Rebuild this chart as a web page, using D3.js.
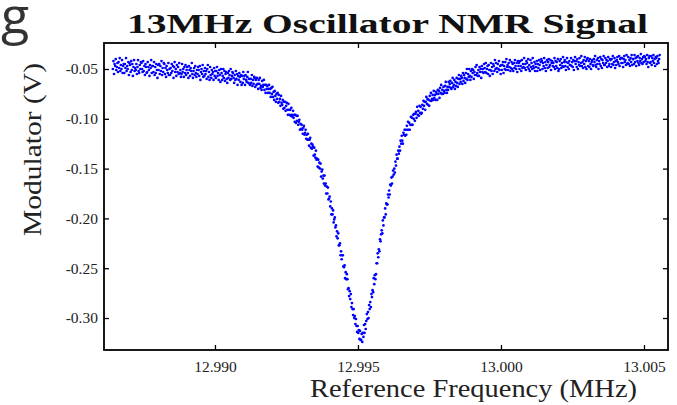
<!DOCTYPE html>
<html><head><meta charset="utf-8">
<script src="https://cdn.jsdelivr.net/npm/d3@7"></script>
<style>html,body{margin:0;padding:0;background:#fff}svg{display:block}</style>
</head><body>
<svg id="c" width="677" height="405"></svg>
<script>
const chartTitle = "13MHz Oscillator NMR Signal";
const cornerMark = "g";
const xLabel = "Reference Frequency (MHz)";
const yLabel = "Modulator (V)";
const xTicks = [12.990, 12.995, 13.000, 13.005];
const yTicks = [-0.05, -0.10, -0.15, -0.20, -0.25, -0.30];

// sweep frequencies (MHz)
const freqMHz = [
12.98643,12.98645,12.98647,12.98649,12.98651,12.98653,12.98655,12.98657,12.98659,12.98661,
12.98663,12.98665,12.98667,12.98669,12.98671,12.98673,12.98675,12.98677,12.98679,12.98681,
12.98683,12.98685,12.98687,12.98689,12.98691,12.98693,12.98695,12.98697,12.98699,12.98701,
12.98703,12.98705,12.98707,12.98709,12.98711,12.98713,12.98715,12.98717,12.98719,12.98721,
12.98723,12.98725,12.98727,12.98729,12.98731,12.98733,12.98735,12.98737,12.98739,12.98741,
12.98743,12.98745,12.98747,12.98749,12.98751,12.98753,12.98755,12.98757,12.98759,12.98761,
12.98763,12.98765,12.98767,12.98769,12.98771,12.98773,12.98775,12.98777,12.98779,12.98781,
12.98783,12.98785,12.98787,12.98789,12.98791,12.98793,12.98795,12.98797,12.98799,12.98801,
12.98803,12.98805,12.98807,12.98809,12.98811,12.98813,12.98815,12.98817,12.98819,12.98821,
12.98823,12.98825,12.98827,12.98829,12.98831,12.98833,12.98835,12.98837,12.98839,12.98841,
12.98843,12.98845,12.98847,12.98849,12.98851,12.98853,12.98855,12.98857,12.98859,12.98861,
12.98863,12.98865,12.98867,12.98869,12.98871,12.98873,12.98875,12.98877,12.98879,12.98881,
12.98883,12.98885,12.98887,12.98889,12.98891,12.98893,12.98895,12.98897,12.98899,12.98901,
12.98903,12.98905,12.98907,12.98909,12.98911,12.98913,12.98915,12.98917,12.98919,12.98921,
12.98923,12.98925,12.98927,12.98929,12.98931,12.98933,12.98935,12.98937,12.98939,12.98941,
12.98943,12.98945,12.98947,12.98949,12.98951,12.98953,12.98955,12.98957,12.98959,12.98961,
12.98963,12.98965,12.98967,12.98969,12.98971,12.98973,12.98975,12.98977,12.98979,12.98981,
12.98983,12.98985,12.98987,12.98989,12.98991,12.98993,12.98995,12.98997,12.98999,12.99001,
12.99003,12.99005,12.99007,12.99009,12.99011,12.99013,12.99015,12.99017,12.99019,12.99021,
12.99023,12.99025,12.99027,12.99029,12.99031,12.99033,12.99035,12.99037,12.99039,12.99041,
12.99043,12.99045,12.99047,12.99049,12.99051,12.99053,12.99055,12.99057,12.99059,12.99061,
12.99063,12.99065,12.99067,12.99069,12.99071,12.99073,12.99075,12.99077,12.99079,12.99081,
12.99083,12.99085,12.99087,12.99089,12.99091,12.99093,12.99095,12.99097,12.99099,12.99101,
12.99103,12.99105,12.99107,12.99109,12.99111,12.99113,12.99115,12.99117,12.99119,12.99121,
12.99123,12.99125,12.99127,12.99129,12.99131,12.99133,12.99135,12.99137,12.99139,12.99141,
12.99143,12.99145,12.99147,12.99149,12.99151,12.99153,12.99155,12.99157,12.99159,12.99161,
12.99163,12.99165,12.99167,12.99169,12.99171,12.99173,12.99175,12.99177,12.99179,12.99181,
12.99183,12.99185,12.99187,12.99189,12.99191,12.99193,12.99195,12.99197,12.99199,12.99201,
12.99203,12.99205,12.99207,12.99209,12.99211,12.99213,12.99215,12.99217,12.99219,12.99221,
12.99223,12.99225,12.99227,12.99229,12.99231,12.99233,12.99235,12.99237,12.99239,12.99241,
12.99243,12.99245,12.99247,12.99249,12.99251,12.99253,12.99255,12.99257,12.99259,12.99261,
12.99263,12.99265,12.99267,12.99269,12.99271,12.99273,12.99275,12.99277,12.99279,12.99281,
12.99283,12.99285,12.99287,12.99289,12.99291,12.99293,12.99295,12.99297,12.99299,12.99301,
12.99303,12.99305,12.99307,12.99309,12.99311,12.99313,12.99315,12.99317,12.99319,12.99321,
12.99323,12.99325,12.99327,12.99329,12.99331,12.99333,12.99335,12.99337,12.99339,12.99341,
12.99343,12.99345,12.99347,12.99349,12.99351,12.99353,12.99355,12.99357,12.99359,12.99361,
12.99363,12.99365,12.99367,12.99369,12.99371,12.99373,12.99375,12.99377,12.99379,12.99381,
12.99383,12.99385,12.99387,12.99389,12.99391,12.99393,12.99395,12.99397,12.99399,12.99401,
12.99403,12.99405,12.99407,12.99409,12.99411,12.99413,12.99415,12.99417,12.99419,12.99421,
12.99423,12.99425,12.99427,12.99429,12.99431,12.99433,12.99435,12.99437,12.99439,12.99441,
12.99443,12.99445,12.99447,12.99449,12.99451,12.99453,12.99455,12.99457,12.99459,12.99461,
12.99463,12.99465,12.99467,12.99469,12.99471,12.99473,12.99475,12.99477,12.99479,12.99481,
12.99483,12.99485,12.99487,12.99489,12.99491,12.99493,12.99495,12.99497,12.99499,12.99501,
12.99503,12.99505,12.99507,12.99509,12.99511,12.99513,12.99515,12.99517,12.99519,12.99521,
12.99523,12.99525,12.99527,12.99529,12.99531,12.99533,12.99535,12.99537,12.99539,12.99541,
12.99543,12.99545,12.99547,12.99549,12.99551,12.99553,12.99555,12.99557,12.99559,12.99561,
12.99563,12.99565,12.99567,12.99569,12.99571,12.99573,12.99575,12.99577,12.99579,12.99581,
12.99583,12.99585,12.99587,12.99589,12.99591,12.99593,12.99595,12.99597,12.99599,12.99601,
12.99603,12.99605,12.99607,12.99609,12.99611,12.99613,12.99615,12.99617,12.99619,12.99621,
12.99623,12.99625,12.99627,12.99629,12.99631,12.99633,12.99635,12.99637,12.99639,12.99641,
12.99643,12.99645,12.99647,12.99649,12.99651,12.99653,12.99655,12.99657,12.99659,12.99661,
12.99663,12.99665,12.99667,12.99669,12.99671,12.99673,12.99675,12.99677,12.99679,12.99681,
12.99683,12.99685,12.99687,12.99689,12.99691,12.99693,12.99695,12.99697,12.99699,12.99701,
12.99703,12.99705,12.99707,12.99709,12.99711,12.99713,12.99715,12.99717,12.99719,12.99721,
12.99723,12.99725,12.99727,12.99729,12.99731,12.99733,12.99735,12.99737,12.99739,12.99741,
12.99743,12.99745,12.99747,12.99749,12.99751,12.99753,12.99755,12.99757,12.99759,12.99761,
12.99763,12.99765,12.99767,12.99769,12.99771,12.99773,12.99775,12.99777,12.99779,12.99781,
12.99783,12.99785,12.99787,12.99789,12.99791,12.99793,12.99795,12.99797,12.99799,12.99801,
12.99803,12.99805,12.99807,12.99809,12.99811,12.99813,12.99815,12.99817,12.99819,12.99821,
12.99823,12.99825,12.99827,12.99829,12.99831,12.99833,12.99835,12.99837,12.99839,12.99841,
12.99843,12.99845,12.99847,12.99849,12.99851,12.99853,12.99855,12.99857,12.99859,12.99861,
12.99863,12.99865,12.99867,12.99869,12.99871,12.99873,12.99875,12.99877,12.99879,12.99881,
12.99883,12.99885,12.99887,12.99889,12.99891,12.99893,12.99895,12.99897,12.99899,12.99901,
12.99903,12.99905,12.99907,12.99909,12.99911,12.99913,12.99915,12.99917,12.99919,12.99921,
12.99923,12.99925,12.99927,12.99929,12.99931,12.99933,12.99935,12.99937,12.99939,12.99941,
12.99943,12.99945,12.99947,12.99949,12.99951,12.99953,12.99955,12.99957,12.99959,12.99961,
12.99963,12.99965,12.99967,12.99969,12.99971,12.99973,12.99975,12.99977,12.99979,12.99981,
12.99983,12.99985,12.99987,12.99989,12.99991,12.99993,12.99995,12.99997,12.99999,13.00001,
13.00003,13.00005,13.00007,13.00009,13.00011,13.00013,13.00015,13.00017,13.00019,13.00021,
13.00023,13.00025,13.00027,13.00029,13.00031,13.00033,13.00035,13.00037,13.00039,13.00041,
13.00043,13.00045,13.00047,13.00049,13.00051,13.00053,13.00055,13.00057,13.00059,13.00061,
13.00063,13.00065,13.00067,13.00069,13.00071,13.00073,13.00075,13.00077,13.00079,13.00081,
13.00083,13.00085,13.00087,13.00089,13.00091,13.00093,13.00095,13.00097,13.00099,13.00101,
13.00103,13.00105,13.00107,13.00109,13.00111,13.00113,13.00115,13.00117,13.00119,13.00121,
13.00123,13.00125,13.00127,13.00129,13.00131,13.00133,13.00135,13.00137,13.00139,13.00141,
13.00143,13.00145,13.00147,13.00149,13.00151,13.00153,13.00155,13.00157,13.00159,13.00161,
13.00163,13.00165,13.00167,13.00169,13.00171,13.00173,13.00175,13.00177,13.00179,13.00181,
13.00183,13.00185,13.00187,13.00189,13.00191,13.00193,13.00195,13.00197,13.00199,13.00201,
13.00203,13.00205,13.00207,13.00209,13.00211,13.00213,13.00215,13.00217,13.00219,13.00221,
13.00223,13.00225,13.00227,13.00229,13.00231,13.00233,13.00235,13.00237,13.00239,13.00241,
13.00243,13.00245,13.00247,13.00249,13.00251,13.00253,13.00255,13.00257,13.00259,13.00261,
13.00263,13.00265,13.00267,13.00269,13.00271,13.00273,13.00275,13.00277,13.00279,13.00281,
13.00283,13.00285,13.00287,13.00289,13.00291,13.00293,13.00295,13.00297,13.00299,13.00301,
13.00303,13.00305,13.00307,13.00309,13.00311,13.00313,13.00315,13.00317,13.00319,13.00321,
13.00323,13.00325,13.00327,13.00329,13.00331,13.00333,13.00335,13.00337,13.00339,13.00341,
13.00343,13.00345,13.00347,13.00349,13.00351,13.00353,13.00355,13.00357,13.00359,13.00361,
13.00363,13.00365,13.00367,13.00369,13.00371,13.00373,13.00375,13.00377,13.00379,13.00381,
13.00383,13.00385,13.00387,13.00389,13.00391,13.00393,13.00395,13.00397,13.00399,13.00401,
13.00403,13.00405,13.00407,13.00409,13.00411,13.00413,13.00415,13.00417,13.00419,13.00421,
13.00423,13.00425,13.00427,13.00429,13.00431,13.00433,13.00435,13.00437,13.00439,13.00441,
13.00443,13.00445,13.00447,13.00449,13.00451,13.00453,13.00455,13.00457,13.00459,13.00461,
13.00463,13.00465,13.00467,13.00469,13.00471,13.00473,13.00475,13.00477,13.00479,13.00481,
13.00483,13.00485,13.00487,13.00489,13.00491,13.00493,13.00495,13.00497,13.00499,13.00501,
13.00503,13.00505,13.00507,13.00509,13.00511,13.00513,13.00515,13.00517,13.00519,13.00521,
13.00523,13.00525,13.00527,13.00529,13.00531,13.00533,13.00535,13.00537,13.00539,13.00541,
13.00543,13.00545,13.00547,13.00549,13.00551,13.00553,13.00555
];

// modulator readings in millivolts below zero (volts = -mV/1000)
const modMilliVoltsNeg = [
50,42,55,45,47,40,51,48,44,53,
43,49,39,52,46,50,41,54,47,45,
54,45,49,39,52,47,50,43,56,44,
46,53,42,51,45,57,48,41,52,49,
51,45,55,48,41,52,54,46,50,43,
44,50,53,42,52,47,56,45,48,54,
53,43,48,51,57,46,49,41,54,47,
47,53,43,56,48,54,45,51,59,46,
51,45,55,47,52,42,56,49,53,44,
45,55,49,58,47,51,54,44,56,50,
56,49,54,45,52,47,59,48,43,53,
50,57,46,53,48,55,44,54,51,58,
55,45,53,50,58,48,54,46,56,51,
48,54,59,47,51,57,49,52,44,55,
59,52,49,56,47,54,58,51,55,48,
51,57,47,61,53,50,55,46,58,52,
57,49,55,52,60,50,46,58,53,61,
48,56,59,51,55,53,61,49,57,52,
59,52,48,57,54,61,51,56,63,50,
54,61,57,50,59,52,62,55,53,60,
64,54,59,52,56,61,50,60,57,53,
54,59,64,56,61,52,60,55,66,57,
61,54,58,63,56,66,57,64,53,60,
57,66,56,61,63,58,53,64,60,65,
66,60,64,56,67,61,65,58,59,68,
61,66,59,65,70,61,65,59,69,67,
71,62,68,66,61,71,66,74,66,70,
67,74,70,66,74,70,78,69,75,68,
78,73,81,72,77,83,75,80,74,84,
76,83,80,87,77,84,86,81,90,83,
89,83,92,87,84,91,96,85,91,96,
91,97,89,96,98,92,99,96,103,96,
104,97,102,97,106,103,101,111,105,110,
106,111,115,109,107,116,114,111,120,116,
121,115,121,127,121,119,129,125,130,126,
128,137,129,136,139,132,141,140,148,141,
149,144,150,145,158,153,151,160,157,165,
157,167,165,175,168,175,169,181,180,178,
188,183,196,190,196,192,204,201,199,209,
207,218,213,220,215,227,227,225,237,233,
241,237,237,248,249,247,260,254,261,256,
261,271,270,278,273,281,276,289,285,291,
297,291,300,298,306,301,308,314,308,315,
312,321,313,322,322,316,324,315,319,307,
315,306,311,303,296,301,294,300,287,291,
284,289,276,279,272,274,260,266,257,261,
256,245,245,235,239,231,233,221,223,216,
212,215,202,207,199,199,190,196,185,186,
186,176,179,172,176,166,167,159,165,158,
152,156,150,154,143,147,136,140,140,132,
135,128,132,122,125,117,122,125,114,116,
111,117,111,116,107,111,103,111,104,111,
106,98,106,99,106,96,100,95,102,95,
93,99,88,96,92,97,87,94,88,95,
94,86,90,82,87,83,91,83,78,85,
80,86,81,87,77,82,74,82,80,76,
81,72,79,76,81,73,75,81,71,75,
72,79,69,74,66,75,71,75,68,72,
74,67,63,71,74,68,71,63,68,65,
62,69,70,64,59,68,66,61,70,63,
67,59,64,68,60,56,65,60,63,57,
59,65,54,62,56,59,64,54,60,50,
61,55,58,50,57,61,52,58,50,54,
51,60,53,56,48,56,46,54,57,51,
57,48,53,50,59,47,53,50,54,45,
49,53,44,54,50,47,55,46,51,57,
51,44,52,48,55,45,47,52,41,50,
44,49,53,45,50,42,51,47,55,46,
51,46,43,54,47,50,43,51,40,48,
46,51,44,48,41,52,49,43,50,45,
52,44,49,41,47,50,44,53,42,47,
44,50,42,47,52,41,49,45,48,39,
49,45,51,42,44,48,40,50,46,52,
41,48,44,50,39,47,49,43,52,45,
48,42,52,45,49,41,46,51,43,40,
42,50,44,47,39,49,43,52,46,41,
49,43,40,48,46,41,51,44,42,47,
44,48,39,50,42,47,43,49,40,52,
50,42,46,40,49,44,47,38,48,43,
41,47,51,43,39,48,44,50,42,46,
46,39,47,43,48,41,51,42,38,45,
42,48,40,50,43,46,39,47,44,37,
47,43,49,41,45,38,48,42,50,40,
39,47,42,48,40,45,50,43,41,46,
47,40,43,37,46,48,41,45,39,50,
42,45,38,47,40,49,41,44,37,46,
46,39,44,41,48,42,38,47,45,40,
41,48,40,45,37,46,43,39,49,42,
46,41,38,43,45,37,47,40,39,44,
39,44,48,40,37,43,41,46,36,45,
44,38,45,41,47,39,43,36,46,40,
40,45,36,43,39,47,38,42,37,44,
46,39,42,35,44,40,45,38,43,37,
38,42,40,45,36,43,48,39,37,44,
43,37,46,39,42,36,44,40,47,38,
39,45,37,42,44,40,36
];
const modV = modMilliVoltsNeg.map(v => -v / 1000);

const n = Math.min(freqMHz.length, modV.length);
const points = d3.range(n).map(i => [freqMHz[i], modV[i]]);

const plot = {left: 104, right: 668, top: 43, bottom: 350};
const serif = "'Liberation Serif', 'DejaVu Serif', serif";

const svg = d3.select("#c");
const x = d3.scaleLinear().domain([12.98612, 13.00584]).range([plot.left, plot.right]);
const y = d3.scaleLinear().domain([-0.3321, -0.0239]).range([plot.bottom, plot.top]);

const fmtX = d => d3.format(".3f")(d);
const fmtY = d => d3.format(".2f")(d).replace("\u2212", "-");

// data points
svg.append("g").selectAll("circle").data(points).join("circle")
  .attr("cx", d => x(d[0])).attr("cy", d => y(d[1]))
  .attr("r", 1.35).attr("fill", "#0000ff");

// axes
function styleAxis(g) {
  g.select(".domain").remove();
  g.selectAll(".tick line").attr("stroke", "#000").attr("stroke-width", 1.3);
  g.selectAll(".tick text").attr("font-family", serif).attr("font-size", 15.5).attr("fill", "#222");
}
svg.append("g").attr("transform", `translate(0,${plot.bottom})`)
  .call(d3.axisBottom(x).tickValues(xTicks).tickFormat(fmtX).tickSizeInner(-5).tickSizeOuter(0).tickPadding(11))
  .call(styleAxis);
svg.append("g").attr("transform", `translate(0,${plot.top})`)
  .call(d3.axisTop(x).tickValues(xTicks).tickFormat("").tickSizeInner(-5).tickSizeOuter(0))
  .call(styleAxis);
svg.append("g").attr("transform", `translate(${plot.left},0)`)
  .call(d3.axisLeft(y).tickValues(yTicks).tickFormat(fmtY).tickSizeInner(-5).tickSizeOuter(0).tickPadding(6))
  .call(styleAxis);
svg.append("g").attr("transform", `translate(${plot.right},0)`)
  .call(d3.axisRight(y).tickValues(yTicks).tickFormat("").tickSizeInner(-5).tickSizeOuter(0))
  .call(styleAxis);

// frame
svg.append("rect").attr("x", plot.left).attr("y", plot.top)
  .attr("width", plot.right - plot.left).attr("height", plot.bottom - plot.top)
  .attr("fill", "none").attr("stroke", "#000").attr("stroke-width", 1.8);

// title
svg.append("text").attr("x", 127).attr("y", 33)
  .attr("font-family", serif).attr("font-weight", "bold").attr("font-size", 28)
  .attr("textLength", 521).attr("lengthAdjust", "spacingAndGlyphs")
  .attr("fill", "#111").text(chartTitle);

// axis labels
svg.append("text").attr("x", 310).attr("y", 397)
  .attr("font-family", serif).attr("font-size", 25)
  .attr("textLength", 327).attr("lengthAdjust", "spacingAndGlyphs")
  .attr("fill", "#222").text(xLabel);
svg.append("text").attr("transform", "translate(41,236) rotate(-90)")
  .attr("font-family", serif).attr("font-size", 25)
  .attr("textLength", 173).attr("lengthAdjust", "spacingAndGlyphs")
  .attr("fill", "#222").text(yLabel);

// corner glyph (fragment of a panel label at the top-left edge)
svg.append("text").attr("x", 1).attr("y", 34)
  .attr("font-family", "'Open Sans', sans-serif").attr("font-size", 52)
  .attr("fill", "#333").text(cornerMark);
</script>
</body></html>
